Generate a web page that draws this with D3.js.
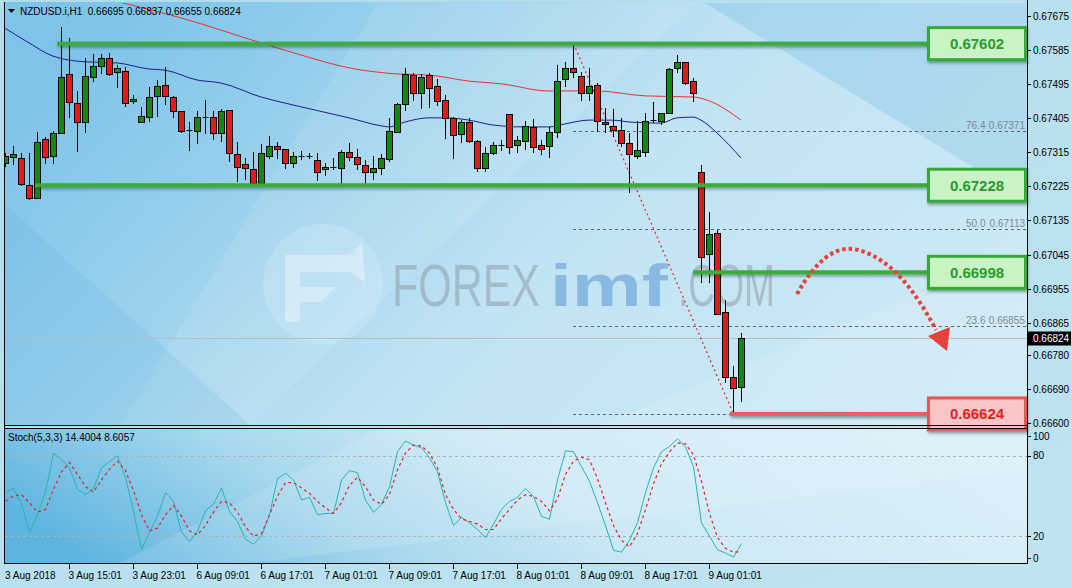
<!DOCTYPE html>
<html><head><meta charset="utf-8">
<script src="https://cdn.jsdelivr.net/npm/d3@7/dist/d3.min.js"></script>
<style>body{margin:0;background:#fff;overflow:hidden}svg{display:block}</style>
</head><body>
<svg id="c" width="1072" height="588"></svg>
<script>
// ---------- DATA ----------
const symbolTitle = "NZDUSD.i,H1  0.66695 0.66837 0.66655 0.66824";
const stochTitle = "Stoch(5,3,3) 14.4004 8.6057";
const open = [0.67287,0.67303,0.67300,0.67229,0.67195,0.67350,0.67305,0.67366,0.67522,0.67445,
0.67395,0.67514,0.67543,0.67564,0.67527,0.67530,0.67451,0.67395,0.67408,0.67464,
0.67493,0.67461,0.67424,0.67374,0.67371,0.67408,0.67408,0.67366,0.67427,0.67311,
0.67284,0.67271,0.67234,0.67305,0.67332,0.67324,0.67287,0.67303,0.67305,0.67295,
0.67271,0.67276,0.67274,0.67316,0.67303,0.67282,0.67263,0.67274,0.67297,0.67369,
0.67443,0.67519,0.67472,0.67519,0.67490,0.67453,0.67406,0.67364,0.67395,0.67345,
0.67274,0.67313,0.67333,0.67416,0.67334,0.67345,0.67382,0.67334,0.67332,0.67369,
0.67509,0.67538,0.67517,0.67472,0.67493,0.67395,0.67385,0.67374,0.67340,0.67305,
0.67316,0.67398,0.67398,0.67419,0.67538,0.67554,0.67503,0.67263,0.67047,0.67102,
0.66894,0.66722,0.66695];
const high = [0.67313,0.67332,0.67313,0.67313,0.67369,0.67356,0.67371,0.67646,0.67617,0.67477,
0.67564,0.67575,0.67575,0.67577,0.67546,0.67540,0.67466,0.67435,0.67488,0.67506,
0.67540,0.67464,0.67424,0.67395,0.67424,0.67453,0.67424,0.67430,0.67427,0.67342,
0.67300,0.67316,0.67337,0.67358,0.67342,0.67324,0.67316,0.67319,0.67313,0.67313,
0.67287,0.67300,0.67321,0.67340,0.67324,0.67295,0.67305,0.67311,0.67406,0.67445,
0.67538,0.67525,0.67522,0.67525,0.67509,0.67466,0.67408,0.67400,0.67406,0.67348,
0.67329,0.67342,0.67348,0.67416,0.67358,0.67398,0.67403,0.67348,0.67382,0.67546,
0.67554,0.67602,0.67527,0.67538,0.67498,0.67432,0.67430,0.67406,0.67366,0.67398,
0.67419,0.67448,0.67419,0.67538,0.67572,0.67554,0.67511,0.67282,0.67158,0.67110,
0.66925,0.66751,0.66837];
const low = [0.67276,0.67282,0.67226,0.67189,0.67192,0.67284,0.67284,0.67364,0.67406,0.67316,
0.67366,0.67501,0.67522,0.67517,0.67485,0.67435,0.67443,0.67392,0.67395,0.67408,
0.67440,0.67406,0.67366,0.67319,0.67337,0.67364,0.67348,0.67342,0.67290,0.67237,
0.67242,0.67226,0.67232,0.67297,0.67297,0.67271,0.67274,0.67295,0.67297,0.67239,
0.67253,0.67268,0.67234,0.67292,0.67268,0.67234,0.67242,0.67255,0.67290,0.67366,
0.67424,0.67451,0.67430,0.67432,0.67437,0.67350,0.67297,0.67340,0.67340,0.67263,
0.67263,0.67308,0.67319,0.67311,0.67313,0.67321,0.67313,0.67308,0.67300,0.67353,
0.67488,0.67511,0.67451,0.67451,0.67369,0.67366,0.67356,0.67329,0.67208,0.67297,
0.67303,0.67392,0.67387,0.67416,0.67525,0.67493,0.67448,0.66970,0.66970,0.66886,
0.66706,0.66624,0.66655];
const close = [0.67305,0.67311,0.67232,0.67195,0.67342,0.67303,0.67366,0.67514,0.67448,0.67395,
0.67517,0.67543,0.67564,0.67522,0.67538,0.67445,0.67456,0.67411,0.67461,0.67490,
0.67464,0.67424,0.67371,0.67371,0.67408,0.67408,0.67366,0.67424,0.67313,0.67276,
0.67274,0.67234,0.67313,0.67332,0.67324,0.67287,0.67305,0.67305,0.67303,0.67263,
0.67276,0.67276,0.67316,0.67303,0.67284,0.67263,0.67274,0.67300,0.67371,0.67443,
0.67522,0.67472,0.67514,0.67485,0.67451,0.67406,0.67361,0.67395,0.67345,0.67274,
0.67313,0.67334,0.67334,0.67329,0.67348,0.67385,0.67329,0.67324,0.67369,0.67503,
0.67538,0.67527,0.67472,0.67490,0.67398,0.67390,0.67374,0.67340,0.67311,0.67321,
0.67398,0.67400,0.67419,0.67535,0.67554,0.67498,0.67472,0.67039,0.67100,0.66888,
0.66722,0.66693,0.66824];

const timeLabels = ["3 Aug 2018","3 Aug 15:01","3 Aug 23:01","6 Aug 09:01","6 Aug 17:01","7 Aug 01:01",
  "7 Aug 09:01","7 Aug 17:01","8 Aug 01:01","8 Aug 09:01","8 Aug 17:01","9 Aug 01:01"];
const timeLabelBar = [0,8,16,24,32,40,48,56,64,72,80,88];
const priceTicks = [0.67675,0.67585,0.67495,0.67405,0.67315,0.67225,0.67135,0.67045,0.66955,0.66865,0.66780,0.66690,0.66600];
const stochTicks = [100,80,20,0];

const maSlowBar = [12,22,32,37,43,49,53,58,62,68,74,80,86,88,92];
const maSlowVal = [0.67723,0.67670,0.67604,0.67572,0.67538,0.67522,0.67519,0.67503,0.67496,0.67477,0.67477,0.67464,0.67461,0.67451,0.67400];
const maFastBar = [0,3,6,10,14,18,20,24,27,32,36,43,47,48,50,53,55,58,61,65,68,70,73,76,78,82,84,86,87,89,92];
const maFastVal = [0.67643,0.67604,0.67569,0.67554,0.67551,0.67535,0.67532,0.67506,0.67498,0.67461,0.67440,0.67406,0.67385,0.67382,0.67395,0.67406,0.67406,0.67400,0.67387,0.67382,0.67382,0.67390,0.67400,0.67400,0.67395,0.67392,0.67406,0.67408,0.67400,0.67366,0.67300];

const stochMain = [52.6,55.6,43.7,23,36,53,82,77,71,55,51,55.6,71,75.6,80,63.7,38.5,10,23,35,
52.6,46,23,16,23.7,39,43.7,56,38.5,31,17.8,14,20,36,63,67,62,47,49,36,
37,37,62,69,67.4,47,37.8,43.7,57,83,91,88,86,78.5,68,45,28,34,30,25,
19,29,40,46,49,55.6,49.6,34.8,32.6,62,83.7,83,72,61,45,28,9.6,8,17,30,
52.6,71,83,87,92.6,86.7,72,30,20,10,7.4,4.4,14.4004];
const stochSignal = [46,50,51,45,38,40,55,68,75,66,57,53,62,70,76,69,54,36,24,26,
36,43,35,24,21,28,38,46,45,38,27,20,22,36,50,60,60,56,52,46,
41,37,45,58,64,57,47,43.7,51,69.6,82,88,87.4,82,71,51,40,33,31,29,
25,25,33,40,47,51,49.6,46,39,48,66,76,79,77,63,45,28,17,12,22,
40,59,74,83,89.6,88.9,80.7,61,37,19,11,8,8.6057];

const levelPrices = [0.67602,0.67228,0.66998];
const levelStartBar = [6.5,3.75,86];
const supportPrice = 0.66624;
const supportStartBar = 90.6;
const fibRatios = ["76.4","50.0","23.6"];
const fibPrices = [0.67371,0.67113,0.66855];
const fibHighBar = 71, fibHigh = 0.67602, fibLowBar = 91, fibLow = 0.66624;
const lastPrice = 0.66824;
const watermarkParts = ["FOREX","imf",".COM"];

// ---------- CHART ----------
const FONT = "'Liberation Sans', Arial, sans-serif";
const svg = d3.select('#c');
const defs = svg.append('defs');
function lg(id, stops, x1, y1, x2, y2) {
  const g = defs.append('linearGradient').attr('id', id)
    .attr('x1', x1).attr('y1', y1).attr('x2', x2).attr('y2', y2);
  stops.forEach(s => g.append('stop').attr('offset', s[0]).attr('stop-color', s[1]));
}
lg('gBg', [[0,'#b2dcec'],[1,'#bfe4f0']], 0,0,1,1);
lg('gMain', [[0,'#7ec4e8'],[0.3,'#9fd3ee'],[0.55,'#c0e3f3'],[1,'#cde9f5']], 0,0.3,1,0.7);
lg('gStoch', [[0,'#5db4df'],[0.3,'#a8d8ee'],[0.55,'#cde9f5'],[1,'#dbeff8']], 0,0.6,1,0.4);
const sh = defs.append('filter').attr('id','sh').attr('filterUnits','userSpaceOnUse')
  .attr('x',0).attr('y',0).attr('width',1072).attr('height',588);
sh.append('feDropShadow').attr('dx',1).attr('dy',2).attr('stdDeviation',1.6).attr('flood-color','#0a3020').attr('flood-opacity',0.45);
defs.append('clipPath').attr('id','cm').append('rect').attr('x',5).attr('y',3).attr('width',1022).attr('height',422);
defs.append('clipPath').attr('id','cs').append('rect').attr('x',5).attr('y',429).attr('width',1022).attr('height',134);

const N = close.length;
const x = d3.scaleLinear().domain([0, N - 1]).range([5, 741]);
const y = d3.scaleLinear().domain([0.66600, 0.67675]).range([423, 16]);
const ys = d3.scaleLinear().domain([0, 100]).range([563, 429]);
const px = v => Math.round(v) + 0.5;

// background
svg.append('rect').attr('width',1072).attr('height',588).attr('fill','url(#gBg)');
svg.append('rect').attr('x',4).attr('y',2).attr('width',1023).attr('height',424).attr('fill','url(#gMain)');
svg.append('rect').attr('x',4).attr('y',428).attr('width',1023).attr('height',135).attr('fill','url(#gStoch)');
// facets
const fac = svg.append('g').attr('clip-path','url(#cm)');
fac.append('path').attr('d','M380,0 L700,0 L250,425 L120,425 Z').attr('fill','#ffffff').attr('opacity',0.10);
fac.append('path').attr('d','M700,0 L1027,0 L1027,200 Z').attr('fill','#3f9fd6').attr('opacity',0.18);
fac.append('path').attr('d','M0,200 L250,425 L0,425 Z').attr('fill','#3f9fd6').attr('opacity',0.12);
fac.append('path').attr('d','M600,425 L1027,250 L1027,425 Z').attr('fill','#ffffff').attr('opacity',0.12);
const facS = svg.append('g').attr('clip-path','url(#cs)');
facS.append('path').attr('d','M380,429 L1027,429 L1027,470 L250,563 L120,563 Z').attr('fill','#ffffff').attr('opacity',0.12);

// watermark
const wm = svg.append('g').attr('opacity',0.5);
wm.append('circle').attr('cx',323).attr('cy',284).attr('r',60).attr('fill','#d9eef8').attr('opacity',0.55);
wm.append('path').attr('d','M285,255 L350,255 L362,242 L365,282 L350,272 L300,272 L300,287 L335,287 L320,302 L300,302 L300,322 L285,322 Z')
  .attr('fill','#ffffff').attr('opacity',0.8);
const wmX = [392, 550, 678], wmW = [148, 118, 97], wmC = ['#8a97a3','#4f8fd0','#8a97a3'];
watermarkParts.forEach((t, i) => {
  const tx = wm.append('text').attr('x', 0).attr('y', 0).attr('font-family', FONT).attr('font-size', 60)
    .attr('font-weight', i === 1 ? 'bold' : 'normal').attr('fill', wmC[i]).text(t);
  const w = tx.node().getComputedTextLength() || 1;
  tx.attr('transform', `translate(${wmX[i]},306) scale(${wmW[i] / w},1)`);
});

// main chart group
const gm = svg.append('g').attr('clip-path','url(#cm)');

// current price line
gm.append('line').attr('x1',5).attr('x2',1027).attr('y1',px(y(lastPrice))).attr('y2',px(y(lastPrice)))
  .attr('stroke','#b9bcbf').attr('stroke-width',1);

// fibonacci levels
const fibAll = fibPrices.concat([fibLow]);
gm.selectAll('.fib').data(fibAll).join('line')
  .attr('x1', x(fibHighBar)).attr('x2', 1027)
  .attr('y1', d => px(y(d))).attr('y2', d => px(y(d)))
  .attr('stroke','#5d6670').attr('stroke-dasharray','3,3').attr('stroke-width',1);
fibPrices.forEach((p, i) => {
  gm.append('text').attr('x', 966).attr('y', px(y(p)) - 3).attr('font-family',FONT).attr('font-size',10)
    .attr('fill','#7d8a94').text(fibRatios[i]);
  gm.append('text').attr('x', 1025).attr('y', px(y(p)) - 3).attr('text-anchor','end').attr('font-family',FONT).attr('font-size',10)
    .attr('fill','#7d8a94').text(p.toFixed(5));
});
// fib diagonal
gm.append('line').attr('x1', x(fibHighBar) + 0.5).attr('y1', y(fibHigh)).attr('x2', x(fibLowBar) + 0.5).attr('y2', y(fibLow))
  .attr('stroke','#e02a2a').attr('stroke-width',1.2).attr('stroke-dasharray','2,3');

// moving averages
const lineMA = d3.line().curve(d3.curveMonotoneX);
gm.append('path').attr('d', lineMA(maSlowBar.map((b, i) => [x(b), y(maSlowVal[i])])))
  .attr('fill','none').attr('stroke','#e8332c').attr('stroke-width',1);
gm.append('path').attr('d', lineMA(maFastBar.map((b, i) => [x(b), y(maFastVal[i])])))
  .attr('fill','none').attr('stroke','#1b1f8c').attr('stroke-width',1);

// candles
const cg = gm.append('g');
d3.range(N).forEach(i => {
  const cx = Math.round(x(i)) + 0.5;
  const up = close[i] >= open[i];
  cg.append('line').attr('x1',cx).attr('x2',cx).attr('y1',Math.round(y(high[i]))).attr('y2',Math.round(y(low[i])))
    .attr('stroke','#000').attr('stroke-width',1);
  const yt = Math.round(y(Math.max(open[i], close[i])));
  const yb = Math.round(y(Math.min(open[i], close[i])));
  if (yb - yt < 2) {
    cg.append('line').attr('x1',cx - 3).attr('x2',cx + 3).attr('y1',yt + 0.5).attr('y2',yt + 0.5)
      .attr('stroke','#000').attr('stroke-width',1);
  } else {
    cg.append('rect').attr('x',cx - 3).attr('y',yt + 0.5).attr('width',6).attr('height',yb - yt)
      .attr('fill', up ? '#0f8a12' : '#e3191b').attr('stroke','#000').attr('stroke-width',1);
  }
});

// level lines (drawn as thin rects so the shadow filter has a real box)
levelPrices.forEach((p, i) => {
  gm.append('rect').attr('x', x(levelStartBar[i])).attr('width', 930 - x(levelStartBar[i]))
    .attr('y', y(p) - 2).attr('height', 4).attr('fill','#3caa3c').attr('filter','url(#sh)');
});
gm.append('rect').attr('x', x(supportStartBar)).attr('width', 930 - x(supportStartBar))
  .attr('y', y(supportPrice) - 2).attr('height', 4).attr('fill','#ec5d5d').attr('filter','url(#sh)');

// dotted curved arrow
gm.append('path').attr('d','M797,294 C815,262 835,244 858,250 C890,258 915,290 936,330')
  .attr('fill','none').attr('stroke','#e8403a').attr('stroke-width',4).attr('stroke-dasharray','3.5,3');
gm.append('path').attr('d','M928,336 L950,327 L947,351 Z').attr('fill','#e8403a');

// level boxes
function box(p, stroke, fill, tc) {
  const cy = y(p);
  const g = svg.append('g').attr('filter','url(#sh)');
  g.append('rect').attr('x',928.5).attr('y',cy - 16).attr('width',97).attr('height',32)
    .attr('fill',fill).attr('stroke',stroke).attr('stroke-width',3);
  svg.append('text').attr('x',977).attr('y',cy + 5.5).attr('text-anchor','middle').attr('font-family',FONT)
    .attr('font-weight','bold').attr('font-size',15).attr('fill',tc).text(p.toFixed(5));
}
levelPrices.forEach(p => box(p, '#39a83a', '#c9f3c4', '#2c9a30'));
box(supportPrice, '#ea5656', '#f8c6c6', '#e31f1f');

// stochastic
const gs = svg.append('g').attr('clip-path','url(#cs)');
[80, 20].forEach(v => gs.append('line').attr('x1',5).attr('x2',1027).attr('y1',px(ys(v))).attr('y2',px(ys(v)))
  .attr('stroke','#a9b2ba').attr('stroke-dasharray','3,3'));
const ls = d3.line().x((d, i) => x(i) + 0.5).y(d => ys(d));
gs.append('path').attr('d', ls(stochMain)).attr('fill','none').attr('stroke','#2ab3ad').attr('stroke-width',1);
gs.append('path').attr('d', ls(stochSignal)).attr('fill','none').attr('stroke','#e0262a').attr('stroke-width',1.2).attr('stroke-dasharray','3,3');

// frames
const fr = svg.append('g').attr('stroke','#000').attr('stroke-width',1);
fr.append('line').attr('x1',4.5).attr('x2',4.5).attr('y1',2).attr('y2',564);
fr.append('line').attr('x1',1027.5).attr('x2',1027.5).attr('y1',0).attr('y2',564);
fr.append('line').attr('x1',4).attr('x2',1028).attr('y1',425.5).attr('y2',425.5);
fr.append('line').attr('x1',4).attr('x2',1028).attr('y1',428.5).attr('y2',428.5);
fr.append('line').attr('x1',4).attr('x2',1028).attr('y1',563.5).attr('y2',563.5);

// price axis
priceTicks.forEach(p => {
  const yy = px(y(p));
  svg.append('line').attr('x1',1027).attr('x2',1031).attr('y1',yy).attr('y2',yy).attr('stroke','#000');
  svg.append('text').attr('x',1033).attr('y',yy + 3.5).attr('font-family',FONT).attr('font-size',10).attr('fill','#000').text(p.toFixed(5));
});
// current price tag
const ly = px(y(lastPrice));
svg.append('rect').attr('x',1028).attr('y',ly - 7).attr('width',43).attr('height',14).attr('fill','#000');
svg.append('text').attr('x',1033).attr('y',ly + 3.5).attr('font-family',FONT).attr('font-size',10).attr('fill','#fff').text(lastPrice.toFixed(5));
// stoch axis
stochTicks.forEach(v => {
  const yy = Math.max(436, Math.min(558, ys(v)));
  svg.append('line').attr('x1',1027).attr('x2',1031).attr('y1',px(yy)).attr('y2',px(yy)).attr('stroke','#000');
  svg.append('text').attr('x',1033).attr('y',yy + 3.5).attr('font-family',FONT).attr('font-size',10).attr('fill','#000').text(v);
});
// time axis
timeLabels.forEach((t, i) => {
  const xx = Math.round(x(timeLabelBar[i])) + 0.5;
  if (i > 0) svg.append('line').attr('x1',xx).attr('x2',xx).attr('y1',564).attr('y2',569).attr('stroke','#000');
  svg.append('text').attr('x', i === 0 ? 5 : xx - 1).attr('y',579).attr('font-family',FONT).attr('font-size',10).attr('fill','#000').text(t);
});

// titles
svg.append('path').attr('d','M8,9 L15,9 L11.5,13 Z').attr('fill','#000');
svg.append('text').attr('x',20).attr('y',15).attr('font-family',FONT).attr('font-size',10).attr('fill','#000').attr('xml:space','preserve').text(symbolTitle);
svg.append('text').attr('x',8).attr('y',441).attr('font-family',FONT).attr('font-size',10).attr('fill','#000').text(stochTitle);
</script>
</body></html>
